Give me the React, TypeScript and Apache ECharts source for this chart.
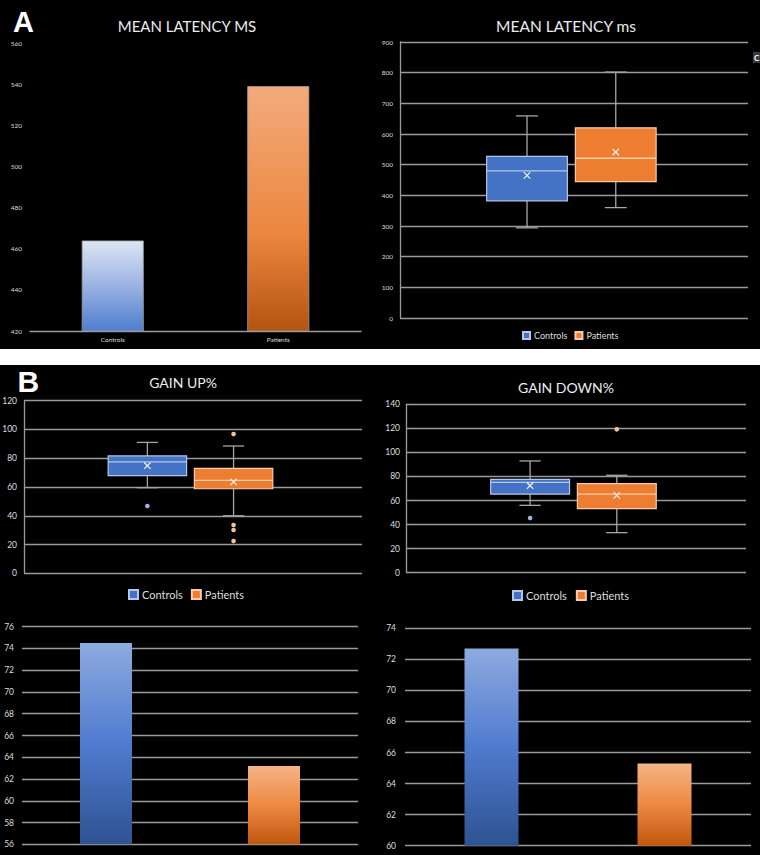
import React, { useEffect, useRef } from 'react';
import * as echarts from 'echarts';

// ---------- data ----------
const groups = ['Controls', 'Patients'];

// Panel A
const latencyMeans = [464, 539];
// [min, q1, median, q3, max, mean]
const latencyBoxControls = [294, 382, 480, 527, 659, 465];
const latencyBoxPatients = [360, 445, 521, 620, 802, 541];

// Panel B
const gainUpBoxControls = [59.5, 67.9, 77.4, 81.6, 91, 74.8];
const gainUpBoxPatients = [40, 58.8, 64.6, 73, 88.5, 63.5];
const gainUpOutliersControls = [46.8];
const gainUpOutliersPatients = [96.8, 33.6, 30.1, 22.4];

const gainDownBoxControls = [56, 65.4, 75.1, 77.6, 92.9, 72.3];
const gainDownBoxPatients = [33.3, 53.2, 65.4, 74, 81, 64.3];
const gainDownOutliersControls = [45.5];
const gainDownOutliersPatients = [119.2];

const gainUpMeans = [74.5, 63.2];
const gainDownMeans = [72.7, 65.3];

// ---------- style ----------
const FONT = 'Lato';
const TXT = '#dedede';
const GRID_LINE = '#9a9a9a';
const WHISKER = '#a6a6a6';
const BOX_W = 0.232;
const OFFSETS = [-0.135, 0.12];
const CAP = 0.27;
const COLORS: any = {
  Controls: { fill: '#4472c4', stroke: '#b4c7e7', dot: '#9db5e3' },
  Patients: { fill: '#ed7d31', stroke: '#f8cbad', dot: '#f6c29d' },
};

function boxSeries(name: string, gi: number, stats: number[], offset: number) {
  const c = COLORS[name];
  return {
    type: 'custom',
    name,
    xAxisIndex: gi,
    yAxisIndex: gi,
    itemStyle: { color: c.fill, borderColor: c.stroke, borderWidth: 1 },
    encode: { x: 0, y: [1, 2, 3, 4, 5, 6] },
    data: [[0, ...stats]],
    renderItem: (params: any, api: any) => {
      const cat = api.value(0);
      const band = api.size([1, 0])[0];
      const cx = api.coord([cat, 0])[0] + offset * band;
      const w = BOX_W * band;
      const y = (i: number) => api.coord([cat, api.value(i)])[1];
      const yMin = y(1), yQ1 = y(2), yMed = y(3), yQ3 = y(4), yMax = y(5), yMean = y(6);
      const cap = (w * CAP) / 2;
      const m = 3.2;
      const ws = { stroke: WHISKER, lineWidth: 1.3 };
      return {
        type: 'group',
        children: [
          { type: 'line', shape: { x1: cx, y1: yQ3, x2: cx, y2: yMax }, style: ws },
          { type: 'line', shape: { x1: cx, y1: yQ1, x2: cx, y2: yMin }, style: ws },
          { type: 'line', shape: { x1: cx - cap, y1: yMax, x2: cx + cap, y2: yMax }, style: ws },
          { type: 'line', shape: { x1: cx - cap, y1: yMin, x2: cx + cap, y2: yMin }, style: ws },
          {
            type: 'rect',
            shape: { x: cx - w / 2, y: yQ3, width: w, height: yQ1 - yQ3 },
            style: { fill: c.fill, stroke: c.stroke, lineWidth: 1.2 },
          },
          {
            type: 'line',
            shape: { x1: cx - w / 2, y1: yMed, x2: cx + w / 2, y2: yMed },
            style: { stroke: c.stroke, lineWidth: 1.3 },
          },
          { type: 'line', shape: { x1: cx - m, y1: yMean - m, x2: cx + m, y2: yMean + m }, style: { stroke: '#f2f2f2', lineWidth: 1.2 } },
          { type: 'line', shape: { x1: cx - m, y1: yMean + m, x2: cx + m, y2: yMean - m }, style: { stroke: '#f2f2f2', lineWidth: 1.2 } },
        ],
      };
    },
  };
}

function outlierSeries(name: string, gi: number, values: number[], offset: number) {
  const c = COLORS[name];
  return {
    type: 'custom',
    xAxisIndex: gi,
    yAxisIndex: gi,
    data: values.map((v) => [0, v]),
    renderItem: (params: any, api: any) => {
      const cat = api.value(0);
      const band = api.size([1, 0])[0];
      const p = api.coord([cat, api.value(1)]);
      return {
        type: 'circle',
        shape: { cx: p[0] + offset * band, cy: p[1], r: 2.3 },
        style: { fill: c.dot },
      };
    },
  };
}

const grad = (stops: [number, string][]) =>
  new echarts.graphic.LinearGradient(0, 0, 0, 1, stops.map(([offset, color]) => ({ offset, color })));

const gradA = [
  grad([[0, '#dde5f4'], [0.5, '#9ab2e2'], [1, '#4f7dcf']]),
  grad([[0, '#f2ab7c'], [0.6, '#ec8640'], [1, '#b5540f']]),
];
const gradB = [
  grad([[0, '#8eaadf'], [0.5, '#4f7bcf'], [1, '#2e5291']]),
  grad([[0, '#f5b487'], [0.5, '#ee8942'], [1, '#c0570f']]),
];

const valueAxis = (gi: number, min: number, max: number, interval: number, opts: any = {}) => ({
  type: 'value',
  gridIndex: gi,
  min,
  max,
  interval,
  axisLine: { show: opts.axisLine ?? false, lineStyle: { color: GRID_LINE, width: 1.3 } },
  axisTick: { show: false },
  splitLine: { show: opts.splitLine ?? true, lineStyle: { color: GRID_LINE, width: 1.3 } },
  axisLabel: { color: TXT, fontSize: opts.fontSize ?? 8.5, fontFamily: FONT, margin: opts.margin ?? 7 },
});

const hiddenCat = (gi: number) => ({
  type: 'category',
  gridIndex: gi,
  data: [''],
  axisLine: { show: false },
  axisTick: { show: false },
  axisLabel: { show: false },
  splitLine: { show: false },
});

const legend = (left: number, top: number, fontSize: number, icon: number, gap: number) => ({
  data: groups,
  left,
  top,
  padding: 0,
  icon: 'rect',
  itemWidth: icon,
  itemHeight: icon,
  itemGap: gap,
  textStyle: { color: TXT, fontSize, fontFamily: FONT, padding: [0, 0, 0, -1] },
});

const title = (text: string, x: number, y: number, size: number) => ({
  type: 'text',
  x,
  y,
  style: { text, fill: '#ececec', font: `${size}px ${FONT}`, textAlign: 'center', textVerticalAlign: 'middle' },
});

export default function App() {
  const ref = useRef<HTMLDivElement>(null);
  useEffect(() => {
    const chart = echarts.init(ref.current!, null, { renderer: 'svg' });
    const option: any = {
      animation: false,
      backgroundColor: '#000',
      textStyle: { fontFamily: FONT },
      grid: [
        { left: 30, top: 43, width: 331, height: 288, outerBoundsMode: 'none' },
        { left: 400, top: 42, width: 348, height: 276, outerBoundsMode: 'none' },
        { left: 24, top: 400.7, width: 338, height: 172.6, outerBoundsMode: 'none' },
        { left: 406, top: 404.3, width: 340, height: 168.4, outerBoundsMode: 'none' },
        { left: 22, top: 626.7, width: 336, height: 217.6, outerBoundsMode: 'none' },
        { left: 405, top: 628.3, width: 346, height: 217.4, outerBoundsMode: 'none' },
      ],
      xAxis: [
        {
          type: 'category',
          gridIndex: 0,
          data: groups,
          axisLine: { show: true, lineStyle: { color: GRID_LINE, width: 1.3 } },
          axisTick: { show: false },
          axisLabel: { color: TXT, fontSize: 6.5, fontFamily: FONT, margin: 5 },
        },
        hiddenCat(1),
        hiddenCat(2),
        hiddenCat(3),
        { ...hiddenCat(4), data: groups },
        { ...hiddenCat(5), data: groups },
      ],
      yAxis: [
        valueAxis(0, 420, 560, 20, { splitLine: false, fontSize: 6.5, margin: 8 }),
        valueAxis(1, 0, 900, 100, { axisLine: true, fontSize: 6.5, margin: 7 }),
        valueAxis(2, 0, 120, 20, { axisLine: true, fontSize: 8.5, margin: 7 }),
        valueAxis(3, 0, 140, 20, { axisLine: true, fontSize: 8.5, margin: 6 }),
        valueAxis(4, 56, 76, 2, { fontSize: 8.5, margin: 8 }),
        valueAxis(5, 60, 74, 2, { fontSize: 8.5, margin: 9 }),
      ],
      legend: [
        legend(522, 331, 9, 7, 7),
        legend(128, 589, 11, 9, 8),
        legend(512, 590, 11, 9, 9),
      ],
      series: [
        boxSeries('Controls', 1, latencyBoxControls, OFFSETS[0]),
        boxSeries('Patients', 1, latencyBoxPatients, OFFSETS[1]),
        boxSeries('Controls', 2, gainUpBoxControls, OFFSETS[0]),
        boxSeries('Patients', 2, gainUpBoxPatients, OFFSETS[1]),
        outlierSeries('Controls', 2, gainUpOutliersControls, OFFSETS[0]),
        outlierSeries('Patients', 2, gainUpOutliersPatients, OFFSETS[1]),
        boxSeries('Controls', 3, gainDownBoxControls, OFFSETS[0]),
        boxSeries('Patients', 3, gainDownBoxPatients, OFFSETS[1]),
        outlierSeries('Controls', 3, gainDownOutliersControls, OFFSETS[0]),
        outlierSeries('Patients', 3, gainDownOutliersPatients, OFFSETS[1]),
        {
          type: 'bar',
          name: 'Mean latency',
          xAxisIndex: 0,
          yAxisIndex: 0,
          barWidth: 62,
          data: latencyMeans.map((v, i) => ({
            value: v,
            itemStyle: { color: gradA[i], borderColor: '#9c9c9c', borderWidth: 0.8 },
          })),
        },
        {
          type: 'bar',
          name: 'Mean gain up',
          xAxisIndex: 4,
          yAxisIndex: 4,
          barWidth: 52,
          data: gainUpMeans.map((v, i) => ({ value: v, itemStyle: { color: gradB[i] } })),
        },
        {
          type: 'bar',
          name: 'Mean gain down',
          xAxisIndex: 5,
          yAxisIndex: 5,
          barWidth: 54,
          data: gainDownMeans.map((v, i) => ({ value: v, itemStyle: { color: gradB[i] } })),
        },
      ],
      graphic: [
        { type: 'rect', shape: { x: 0, y: 349, width: 760, height: 16 }, style: { fill: '#ffffff' } },
        {
          type: 'text',
          x: 13,
          y: 22,
          style: { text: 'A', fill: '#ffffff', font: 'bold 29px "Liberation Sans"', textVerticalAlign: 'middle' },
        },
        {
          type: 'text',
          x: 17.5,
          y: 381,
          style: { text: 'B', fill: '#ffffff', font: 'bold 30px "Liberation Sans"', textVerticalAlign: 'middle' },
        },
        title('MEAN LATENCY MS', 187, 25.5, 15),
        title('MEAN LATENCY ms', 566, 25.5, 15.5),
        title('GAIN UP%', 183, 382, 14),
        title('GAIN DOWN%', 566, 387, 14),
        { type: 'rect', shape: { x: 753, y: 52, width: 7, height: 11 }, style: { fill: '#3a3a3a' } },
        {
          type: 'text',
          x: 754,
          y: 57.5,
          style: { text: 'C', fill: '#ffffff', font: 'bold 8px Lato', textVerticalAlign: 'middle' },
        },
      ],
    };
    chart.setOption(option);
    return () => chart.dispose();
  }, []);
  return (
    <div
      ref={ref}
      style={{ position: 'absolute', left: 0, top: 0, width: 760, height: 855 }}
    />
  );
}
